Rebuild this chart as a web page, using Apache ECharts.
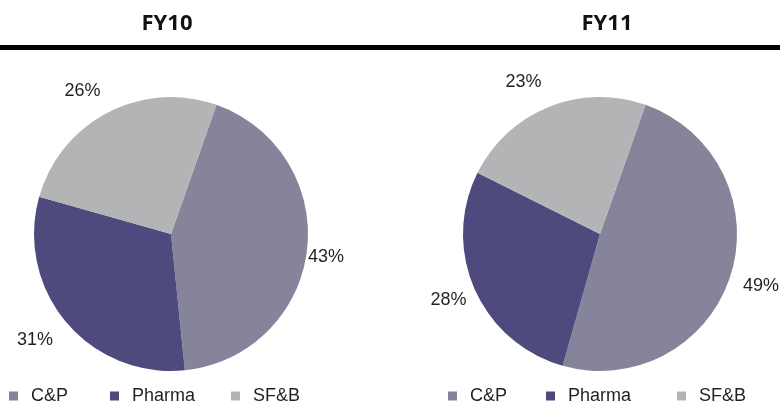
<!DOCTYPE html>
<html>
<head>
<meta charset="utf-8">
<script src="https://cdn.jsdelivr.net/npm/echarts@6/dist/echarts.min.js"></script>
<style>
  html, body { margin: 0; padding: 0; background: #ffffff; }
  #chart { width: 780px; height: 403px; }
</style>
</head>
<body>
<div id="chart"></div>
<script>
// Revenue mix by segment, FY10 vs FY11 (%)
const segments = ['C&P', 'Pharma', 'SF&B'];
const fy10Share = [43, 31, 26];
const fy11Share = [49, 28, 23];
const panelTitles = ['FY10', 'FY11'];
const segmentColors = ['#86849b', '#4e4a7e', '#b3b4b6'];

// Layout settings (pixels / degrees)
const pieCentersX = [171, 600];
const pieCenterY = 234;
const pieRadius = 137;
const firstSliceOffsetDeg = 19.4;          // clockwise from 12 o'clock
const labelGap = [[138, 154, 153], [150, 146, 156]]; // radial distance of the label's nearest corner
const legendLefts = [[9, 110, 231], [448, 546, 677]];

const labelFont = 'Liberation Sans, Arial, sans-serif';
const shares = [fy10Share, fy11Share];

const toData = (values) => values.map((v, i) => ({ name: segments[i], value: v }));

// Mid-angle of slice i (clockwise from top, degrees), derived from the values
function midAngle(values, i) {
  const total = values.reduce((a, b) => a + b, 0);
  let before = 0;
  for (let k = 0; k < i; k++) before += values[k];
  return firstSliceOffsetDeg + (before + values[i] / 2) / total * 360;
}

function pieSeries(values, cx) {
  return {
    type: 'pie',
    center: [cx, pieCenterY],
    radius: pieRadius,
    startAngle: 90 - firstSliceOffsetDeg,
    clockwise: true,
    avoidLabelOverlap: false,
    silent: true,
    itemStyle: { borderWidth: 0 },
    label: {
      show: true,
      position: 'outside',
      formatter: '{c}%',
      color: '#231f20',
      fontFamily: labelFont,
      fontSize: 18
    },
    labelLine: { show: false, length: 10, length2: 0 },
    labelLayout: function (params) {
      const s = params.seriesIndex, i = params.dataIndex;
      const a = midAngle(shares[s], i) * Math.PI / 180;
      const sx = Math.sin(a), sy = -Math.cos(a);
      const p = labelGap[s][i];
      const w = params.labelRect.width, h = params.labelRect.height;
      return {
        x: pieCentersX[s] + sx * p + Math.sign(sx) * w / 2,
        y: pieCenterY + sy * p + Math.sign(sy) * (h / 2 - 2),
        align: 'center',
        verticalAlign: 'middle'
      };
    },
    data: toData(values)
  };
}

const legends = [];
legendLefts.forEach((lefts) => {
  segments.forEach((name, i) => {
    legends.push({
      left: lefts[i],
      top: 387,
      padding: 0,
      itemWidth: 9,
      itemHeight: 9,
      icon: 'rect',
      selectedMode: false,
      textStyle: { fontFamily: labelFont, fontSize: 18, color: '#231f20', padding: [0, 0, 0, 8] },
      data: [name]
    });
  });
});

const titleStyle = { fontFamily: 'Open Sans', fontWeight: 700, fontSize: 22, color: '#111111' };

const chart = echarts.init(document.getElementById('chart'), null, { renderer: 'canvas' });
chart.setOption({
  animation: false,
  color: segmentColors,
  title: [
    { text: panelTitles[0], left: 162, top: 8, textAlign: 'center', textStyle: titleStyle },
    { text: panelTitles[1], left: 602, top: 8, textAlign: 'center', textStyle: titleStyle }
  ],
  graphic: [
    { type: 'rect', shape: { x: 0, y: 45, width: 780, height: 5 }, style: { fill: '#000000' }, silent: true }
  ],
  legend: legends,
  series: [
    pieSeries(fy10Share, pieCentersX[0]),
    pieSeries(fy11Share, pieCentersX[1])
  ]
});
</script>
</body>
</html>
